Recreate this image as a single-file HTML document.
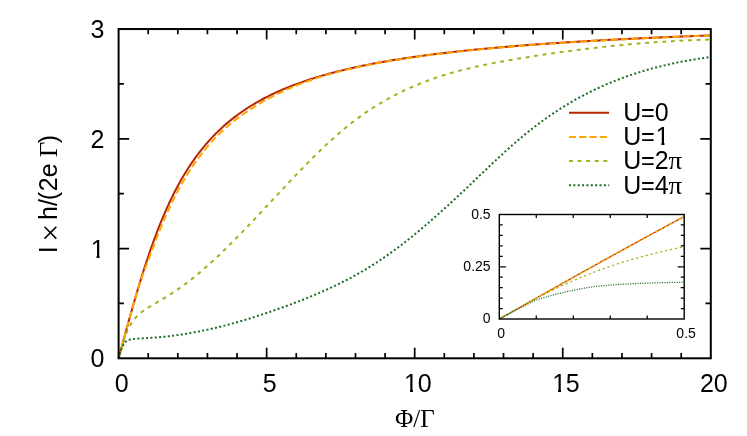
<!DOCTYPE html>
<html><head><meta charset="utf-8"><title>chart</title>
<style>html,body{margin:0;padding:0;background:#fff;overflow:hidden}svg{display:block;will-change:transform}</style>
</head><body>
<svg width="747" height="436" viewBox="0 0 747 436">
<rect x="0" y="0" width="747" height="436" fill="#ffffff"/>
<g fill="none" stroke-width="2" stroke-linejoin="round">
<path d="M118.60,358.30 L118.97,356.93 L119.34,355.56 L119.71,354.18 L120.08,352.81 L120.45,351.44 L120.82,350.07 L121.19,348.70 L121.56,347.33 L121.93,345.97 L122.30,344.60 L122.67,343.23 L123.04,341.87 L123.41,340.50 L123.78,339.14 L124.15,337.78 L124.52,336.42 L124.89,335.07 L125.26,333.71 L125.63,332.36 L126.00,331.00 L126.37,329.65 L126.74,328.31 L127.11,326.96 L127.48,325.62 L127.85,324.28 L128.22,322.94 L128.59,321.61 L128.96,320.27 L129.33,318.94 L129.70,317.62 L130.07,316.29 L130.44,314.97 L130.81,313.65 L131.18,312.34 L131.55,311.03 L131.92,309.72 L132.29,308.42 L132.66,307.12 L133.03,305.82 L133.41,304.53 L133.78,303.24 L134.15,301.95 L134.52,300.67 L134.89,299.39 L135.26,298.12 L135.63,296.85 L136.00,295.59 L136.37,294.33 L136.74,293.07 L137.11,291.82 L137.48,290.57 L137.85,289.33 L138.22,288.09 L138.59,286.85 L138.96,285.62 L139.33,284.40 L139.70,283.18 L140.07,281.97 L140.44,280.76 L140.81,279.55 L141.18,278.35 L141.55,277.15 L141.92,275.96 L142.29,274.78 L142.66,273.60 L143.03,272.42 L143.40,271.25 L143.77,270.09 L144.14,268.93 L144.51,267.78 L144.88,266.63 L145.25,265.48 L145.62,264.35 L145.99,263.21 L146.36,262.09 L146.73,260.96 L147.10,259.85 L147.47,258.74 L147.84,257.63 L148.21,256.53 L149.62,252.39 L151.03,248.33 L152.44,244.35 L153.85,240.45 L155.26,236.63 L156.67,232.89 L158.08,229.23 L159.49,225.65 L160.90,222.16 L162.31,218.73 L163.72,215.39 L165.13,212.12 L166.54,208.93 L167.95,205.80 L169.36,202.76 L170.77,199.78 L172.18,196.87 L173.59,194.03 L175.00,191.26 L176.41,188.55 L177.82,185.91 L179.23,183.32 L180.64,180.80 L182.05,178.34 L183.46,175.93 L184.87,173.59 L186.28,171.29 L187.69,169.05 L189.10,166.87 L190.51,164.73 L191.92,162.64 L193.33,160.60 L194.74,158.61 L196.15,156.66 L197.56,154.76 L198.97,152.90 L200.38,151.08 L201.79,149.30 L203.20,147.56 L204.61,145.86 L206.02,144.20 L207.43,142.58 L208.84,140.99 L210.25,139.43 L211.66,137.91 L213.07,136.42 L214.48,134.96 L215.89,133.53 L217.30,132.13 L218.71,130.76 L220.12,129.42 L221.53,128.11 L222.94,126.82 L224.35,125.56 L225.76,124.33 L227.17,123.12 L228.58,121.93 L229.99,120.77 L231.40,119.63 L232.81,118.51 L234.22,117.41 L235.63,116.34 L237.04,115.28 L238.45,114.25 L239.86,113.23 L241.27,112.23 L242.68,111.25 L244.09,110.29 L245.50,109.35 L246.91,108.42 L248.32,107.51 L249.73,106.62 L251.14,105.74 L252.55,104.88 L253.96,104.03 L255.37,103.20 L256.78,102.38 L258.19,101.58 L259.60,100.79 L261.01,100.01 L262.42,99.25 L263.83,98.50 L265.24,97.76 L266.65,97.03 L268.06,96.32 L269.47,95.61 L270.88,94.92 L272.29,94.24 L273.70,93.57 L275.11,92.91 L276.52,92.26 L277.93,91.62 L279.34,90.99 L280.75,90.37 L282.16,89.76 L283.57,89.16 L284.98,88.57 L286.39,87.98 L287.80,87.41 L289.21,86.84 L290.62,86.29 L292.03,85.74 L293.44,85.19 L294.85,84.66 L296.26,84.13 L297.67,83.62 L299.08,83.10 L300.49,82.60 L301.90,82.10 L303.31,81.61 L304.72,81.13 L306.13,80.65 L307.54,80.18 L308.95,79.72 L310.36,79.26 L311.77,78.81 L313.18,78.36 L314.59,77.92 L316.00,77.48 L317.41,77.06 L318.82,76.63 L320.23,76.22 L321.64,75.80 L323.05,75.40 L324.46,74.99 L325.87,74.60 L327.28,74.21 L328.69,73.82 L330.10,73.44 L331.51,73.06 L332.92,72.69 L334.33,72.32 L335.74,71.95 L337.15,71.59 L338.56,71.24 L339.97,70.89 L341.38,70.54 L342.79,70.20 L344.20,69.86 L345.61,69.52 L347.02,69.19 L348.43,68.86 L349.84,68.54 L351.25,68.22 L352.66,67.90 L354.07,67.59 L355.48,67.28 L356.89,66.98 L358.30,66.67 L359.71,66.38 L361.12,66.08 L362.53,65.79 L363.94,65.50 L365.35,65.21 L366.76,64.93 L368.17,64.65 L369.58,64.37 L370.99,64.10 L372.40,63.83 L373.81,63.56 L375.22,63.29 L376.63,63.03 L378.04,62.77 L379.45,62.51 L380.86,62.26 L382.27,62.00 L383.68,61.76 L385.09,61.51 L386.50,61.26 L387.91,61.02 L389.32,60.78 L390.73,60.54 L392.14,60.31 L393.55,60.08 L394.96,59.85 L396.37,59.62 L397.78,59.39 L399.19,59.17 L400.60,58.94 L402.01,58.73 L403.42,58.51 L404.83,58.29 L406.24,58.08 L407.65,57.87 L409.06,57.66 L410.47,57.45 L411.88,57.24 L413.29,57.04 L414.70,56.84 L416.11,56.64 L417.52,56.44 L418.93,56.24 L420.34,56.05 L421.75,55.86 L423.16,55.66 L424.57,55.48 L425.98,55.29 L427.39,55.10 L428.80,54.92 L430.21,54.73 L431.62,54.55 L433.03,54.37 L434.44,54.19 L435.85,54.02 L437.26,53.84 L438.67,53.67 L440.08,53.50 L441.49,53.33 L442.90,53.16 L444.31,52.99 L445.72,52.82 L447.13,52.66 L448.54,52.49 L449.95,52.33 L451.36,52.17 L452.77,52.01 L454.18,51.85 L455.59,51.69 L457.00,51.54 L458.41,51.38 L459.82,51.23 L461.23,51.08 L462.64,50.93 L464.05,50.78 L465.46,50.63 L466.87,50.48 L468.28,50.33 L469.69,50.19 L471.10,50.05 L472.51,49.90 L473.92,49.76 L475.33,49.62 L476.74,49.48 L478.15,49.34 L479.56,49.20 L480.97,49.07 L482.38,48.93 L483.79,48.80 L485.20,48.66 L486.61,48.53 L488.02,48.40 L489.43,48.27 L490.84,48.14 L492.25,48.01 L493.66,47.88 L495.07,47.76 L496.48,47.63 L497.89,47.51 L499.30,47.38 L500.71,47.26 L502.12,47.14 L503.53,47.02 L504.94,46.90 L506.35,46.78 L507.76,46.66 L509.17,46.54 L510.58,46.42 L511.99,46.31 L513.40,46.19 L514.81,46.08 L516.22,45.96 L517.63,45.85 L519.04,45.74 L520.45,45.63 L521.86,45.52 L523.27,45.41 L524.68,45.30 L526.09,45.19 L527.50,45.08 L528.91,44.97 L530.32,44.87 L531.73,44.76 L533.14,44.66 L534.55,44.55 L535.96,44.45 L537.37,44.35 L538.78,44.24 L540.19,44.14 L541.60,44.04 L543.01,43.94 L544.42,43.84 L545.83,43.74 L547.24,43.65 L548.65,43.55 L550.06,43.45 L551.47,43.35 L552.88,43.26 L554.29,43.16 L555.70,43.07 L557.11,42.98 L558.52,42.88 L559.93,42.79 L561.34,42.70 L562.75,42.61 L564.16,42.51 L565.57,42.42 L566.98,42.33 L568.39,42.24 L569.80,42.16 L571.21,42.07 L572.62,41.98 L574.03,41.89 L575.44,41.81 L576.85,41.72 L578.26,41.63 L579.67,41.55 L581.08,41.46 L582.49,41.38 L583.90,41.30 L585.31,41.21 L586.72,41.13 L588.13,41.05 L589.54,40.97 L590.95,40.89 L592.36,40.81 L593.77,40.73 L595.18,40.65 L596.59,40.57 L598.00,40.49 L599.41,40.41 L600.82,40.33 L602.23,40.25 L603.64,40.18 L605.05,40.10 L606.46,40.02 L607.87,39.95 L609.28,39.87 L610.69,39.80 L612.10,39.72 L613.51,39.65 L614.92,39.58 L616.33,39.50 L617.74,39.43 L619.15,39.36 L620.56,39.29 L621.97,39.22 L623.38,39.14 L624.79,39.07 L626.20,39.00 L627.61,38.93 L629.02,38.86 L630.43,38.79 L631.84,38.73 L633.25,38.66 L634.66,38.59 L636.07,38.52 L637.48,38.45 L638.89,38.39 L640.30,38.32 L641.71,38.25 L643.12,38.19 L644.53,38.12 L645.94,38.06 L647.35,37.99 L648.76,37.93 L650.17,37.86 L651.58,37.80 L652.99,37.74 L654.40,37.67 L655.81,37.61 L657.22,37.55 L658.63,37.48 L660.04,37.42 L661.45,37.36 L662.86,37.30 L664.27,37.24 L665.68,37.18 L667.09,37.12 L668.50,37.06 L669.91,37.00 L671.32,36.94 L672.73,36.88 L674.14,36.82 L675.55,36.76 L676.96,36.70 L678.37,36.65 L679.78,36.59 L681.19,36.53 L682.60,36.47 L684.01,36.42 L685.42,36.36 L686.83,36.30 L688.24,36.25 L689.65,36.19 L691.06,36.14 L692.47,36.08 L693.88,36.03 L695.29,35.97 L696.70,35.92 L698.11,35.86 L699.52,35.81 L700.93,35.76 L702.34,35.70 L703.75,35.65 L705.16,35.60 L706.57,35.54 L707.98,35.49 L709.39,35.44 L710.80,35.39" stroke="#b82503"/>
<path d="M118.60,358.30 L118.97,356.93 L119.34,355.56 L119.71,354.18 L120.08,352.81 L120.45,351.44 L120.82,350.07 L121.19,348.70 L121.56,347.33 L121.93,345.97 L122.30,344.60 L122.67,343.23 L123.04,341.87 L123.41,340.50 L123.78,339.14 L124.15,337.78 L124.52,336.42 L124.89,335.07 L125.26,333.71 L125.63,332.36 L126.00,331.00 L126.37,329.65 L126.74,328.31 L127.11,326.96 L127.48,325.62 L127.85,324.28 L128.22,322.94 L128.59,321.61 L128.96,320.27 L129.33,318.94 L129.70,317.62 L130.07,316.29 L130.44,314.97 L130.81,313.65 L131.18,312.34 L131.55,311.03 L131.92,309.72 L132.29,308.42 L132.66,307.12 L133.03,305.82 L133.41,304.53 L133.78,303.24 L134.15,301.95 L134.52,300.67 L134.89,299.39 L135.26,298.12 L135.63,296.85 L136.00,295.59 L136.37,294.33 L136.74,293.08 L137.11,291.85 L137.48,290.64 L137.85,289.45 L138.22,288.28 L138.59,287.12 L138.96,285.97 L139.33,284.84 L139.70,283.72 L140.07,282.61 L140.44,281.51 L140.81,280.42 L141.18,279.33 L141.55,278.25 L141.92,277.17 L142.29,276.10 L142.66,275.03 L143.03,274.00 L143.40,272.98 L143.77,271.98 L144.14,270.99 L144.51,270.02 L144.88,269.06 L145.25,268.10 L145.62,267.15 L145.99,266.20 L146.36,265.25 L146.73,264.29 L147.10,263.33 L147.47,262.36 L147.84,261.37 L148.21,260.37 L149.62,256.56 L151.03,252.79 L152.44,249.06 L153.85,245.35 L155.26,241.66 L156.67,237.99 L158.08,234.39 L159.49,230.87 L160.90,227.40 L162.31,224.00 L163.72,220.66 L165.13,217.38 L166.54,214.17 L167.95,211.04 L169.36,207.97 L170.77,204.97 L172.18,202.03 L173.59,199.17 L175.00,196.36 L176.41,193.63 L177.82,190.95 L179.23,188.34 L180.64,185.79 L182.05,183.29 L183.46,180.84 L184.87,178.45 L186.28,176.11 L187.69,173.83 L189.10,171.59 L190.51,169.40 L191.92,167.27 L193.33,165.18 L194.74,163.14 L196.15,161.14 L197.56,159.19 L198.97,157.28 L200.38,155.40 L201.79,153.57 L203.20,151.78 L204.61,150.03 L206.02,148.31 L207.43,146.64 L208.84,145.00 L210.25,143.40 L211.66,141.83 L213.07,140.29 L214.48,138.79 L215.89,137.32 L217.30,135.88 L218.71,134.47 L220.12,133.10 L221.53,131.75 L222.94,130.43 L224.35,129.14 L225.76,127.87 L227.17,126.63 L228.58,125.42 L229.99,124.23 L231.40,123.07 L232.81,121.93 L234.22,120.81 L235.63,119.71 L237.04,118.63 L238.45,117.58 L239.86,116.54 L241.27,115.52 L242.68,114.51 L244.09,113.53 L245.50,112.56 L246.91,111.61 L248.32,110.67 L249.73,109.74 L251.14,108.83 L252.55,107.94 L253.96,107.05 L255.37,106.18 L256.78,105.31 L258.19,104.46 L259.60,103.62 L261.01,102.79 L262.42,101.97 L263.83,101.17 L265.24,100.37 L266.65,99.58 L268.06,98.81 L269.47,98.04 L270.88,97.29 L272.29,96.55 L273.70,95.81 L275.11,95.09 L276.52,94.38 L277.93,93.68 L279.34,92.99 L280.75,92.32 L282.16,91.65 L283.57,90.99 L284.98,90.35 L286.39,89.71 L287.80,89.09 L289.21,88.48 L290.62,87.88 L292.03,87.28 L293.44,86.69 L294.85,86.11 L296.26,85.54 L297.67,84.98 L299.08,84.42 L300.49,83.87 L301.90,83.33 L303.31,82.79 L304.72,82.27 L306.13,81.75 L307.54,81.24 L308.95,80.73 L310.36,80.23 L311.77,79.74 L313.18,79.26 L314.59,78.79 L316.00,78.32 L317.41,77.86 L318.82,77.41 L320.23,76.96 L321.64,76.52 L323.05,76.09 L324.46,75.67 L325.87,75.26 L327.28,74.85 L328.69,74.44 L330.10,74.05 L331.51,73.65 L332.92,73.26 L334.33,72.88 L335.74,72.50 L337.15,72.13 L338.56,71.76 L339.97,71.40 L341.38,71.04 L342.79,70.68 L344.20,70.33 L345.61,69.98 L347.02,69.64 L348.43,69.30 L349.84,68.97 L351.25,68.64 L352.66,68.31 L354.07,67.99 L355.48,67.67 L356.89,67.36 L358.30,67.05 L359.71,66.74 L361.12,66.44 L362.53,66.14 L363.94,65.85 L365.35,65.56 L366.76,65.27 L368.17,64.98 L369.58,64.70 L370.99,64.43 L372.40,64.15 L373.81,63.88 L375.22,63.61 L376.63,63.35 L378.04,63.08 L379.45,62.82 L380.86,62.57 L382.27,62.31 L383.68,62.06 L385.09,61.81 L386.50,61.56 L387.91,61.32 L389.32,61.08 L390.73,60.84 L392.14,60.60 L393.55,60.36 L394.96,60.13 L396.37,59.90 L397.78,59.67 L399.19,59.45 L400.60,59.22 L402.01,59.00 L403.42,58.78 L404.83,58.57 L406.24,58.35 L407.65,58.14 L409.06,57.93 L410.47,57.72 L411.88,57.51 L413.29,57.31 L414.70,57.10 L416.11,56.90 L417.52,56.70 L418.93,56.50 L420.34,56.31 L421.75,56.11 L423.16,55.92 L424.57,55.73 L425.98,55.54 L427.39,55.35 L428.80,55.17 L430.21,54.98 L431.62,54.80 L433.03,54.62 L434.44,54.44 L435.85,54.26 L437.26,54.09 L438.67,53.91 L440.08,53.74 L441.49,53.57 L442.90,53.40 L444.31,53.23 L445.72,53.06 L447.13,52.89 L448.54,52.73 L449.95,52.57 L451.36,52.40 L452.77,52.24 L454.18,52.08 L455.59,51.93 L457.00,51.77 L458.41,51.61 L459.82,51.46 L461.23,51.31 L462.64,51.15 L464.05,51.00 L465.46,50.85 L466.87,50.70 L468.28,50.56 L469.69,50.41 L471.10,50.27 L472.51,50.12 L473.92,49.98 L475.33,49.84 L476.74,49.70 L478.15,49.56 L479.56,49.42 L480.97,49.28 L482.38,49.15 L483.79,49.01 L485.20,48.88 L486.61,48.74 L488.02,48.61 L489.43,48.48 L490.84,48.35 L492.25,48.22 L493.66,48.09 L495.07,47.96 L496.48,47.84 L497.89,47.71 L499.30,47.59 L500.71,47.46 L502.12,47.34 L503.53,47.22 L504.94,47.09 L506.35,46.97 L507.76,46.85 L509.17,46.74 L510.58,46.62 L511.99,46.50 L513.40,46.38 L514.81,46.27 L516.22,46.15 L517.63,46.04 L519.04,45.93 L520.45,45.81 L521.86,45.70 L523.27,45.59 L524.68,45.48 L526.09,45.37 L527.50,45.26 L528.91,45.16 L530.32,45.05 L531.73,44.94 L533.14,44.84 L534.55,44.73 L535.96,44.63 L537.37,44.52 L538.78,44.42 L540.19,44.32 L541.60,44.22 L543.01,44.12 L544.42,44.02 L545.83,43.92 L547.24,43.82 L548.65,43.72 L550.06,43.62 L551.47,43.52 L552.88,43.43 L554.29,43.33 L555.70,43.24 L557.11,43.14 L558.52,43.05 L559.93,42.95 L561.34,42.86 L562.75,42.77 L564.16,42.68 L565.57,42.58 L566.98,42.49 L568.39,42.40 L569.80,42.31 L571.21,42.22 L572.62,42.14 L574.03,42.05 L575.44,41.96 L576.85,41.87 L578.26,41.79 L579.67,41.70 L581.08,41.62 L582.49,41.53 L583.90,41.45 L585.31,41.36 L586.72,41.28 L588.13,41.20 L589.54,41.12 L590.95,41.03 L592.36,40.95 L593.77,40.87 L595.18,40.79 L596.59,40.71 L598.00,40.63 L599.41,40.55 L600.82,40.47 L602.23,40.40 L603.64,40.32 L605.05,40.24 L606.46,40.16 L607.87,40.09 L609.28,40.01 L610.69,39.94 L612.10,39.86 L613.51,39.79 L614.92,39.71 L616.33,39.64 L617.74,39.57 L619.15,39.49 L620.56,39.42 L621.97,39.35 L623.38,39.28 L624.79,39.20 L626.20,39.13 L627.61,39.06 L629.02,38.99 L630.43,38.92 L631.84,38.85 L633.25,38.78 L634.66,38.72 L636.07,38.65 L637.48,38.58 L638.89,38.51 L640.30,38.45 L641.71,38.38 L643.12,38.31 L644.53,38.25 L645.94,38.18 L647.35,38.11 L648.76,38.05 L650.17,37.98 L651.58,37.92 L652.99,37.86 L654.40,37.79 L655.81,37.73 L657.22,37.67 L658.63,37.60 L660.04,37.54 L661.45,37.48 L662.86,37.42 L664.27,37.36 L665.68,37.30 L667.09,37.23 L668.50,37.17 L669.91,37.11 L671.32,37.05 L672.73,36.99 L674.14,36.94 L675.55,36.88 L676.96,36.82 L678.37,36.76 L679.78,36.70 L681.19,36.64 L682.60,36.59 L684.01,36.53 L685.42,36.47 L686.83,36.42 L688.24,36.36 L689.65,36.30 L691.06,36.25 L692.47,36.19 L693.88,36.14 L695.29,36.08 L696.70,36.03 L698.11,35.97 L699.52,35.92 L700.93,35.87 L702.34,35.81 L703.75,35.76 L705.16,35.71 L706.57,35.65 L707.98,35.60 L709.39,35.55 L710.80,35.50" stroke="#ffa500" stroke-dasharray="7 3.3"/>
<path d="M118.60,358.30 L118.97,356.93 L119.34,355.56 L119.71,354.20 L120.08,352.85 L120.45,351.50 L120.82,350.18 L121.19,348.87 L121.56,347.58 L121.93,346.31 L122.30,345.07 L122.67,343.85 L123.04,342.66 L123.41,341.50 L123.78,340.36 L124.15,339.25 L124.52,338.18 L124.89,337.13 L125.26,336.11 L125.63,335.13 L126.00,334.17 L126.37,333.24 L126.74,332.35 L127.11,331.48 L127.48,330.68 L127.85,329.86 L128.22,329.08 L128.59,328.31 L128.96,327.58 L129.33,326.86 L129.70,326.17 L130.07,325.51 L130.44,324.86 L130.81,324.24 L131.18,323.63 L131.55,323.04 L131.92,322.48 L132.29,321.92 L132.66,321.39 L133.03,320.87 L133.41,320.37 L133.78,319.88 L134.15,319.41 L134.52,318.95 L134.89,318.51 L135.26,318.07 L135.63,317.65 L136.00,317.24 L136.37,316.84 L136.74,316.45 L137.11,316.07 L137.48,315.70 L137.85,315.34 L138.22,314.99 L138.59,314.64 L138.96,314.30 L139.33,313.97 L139.70,313.65 L140.07,313.34 L140.44,313.03 L140.81,312.72 L141.18,312.43 L141.55,312.14 L141.92,311.85 L142.29,311.57 L142.66,311.29 L143.03,311.02 L143.40,310.75 L143.77,310.49 L144.14,310.23 L144.51,309.97 L144.88,309.72 L145.25,309.47 L145.62,309.22 L145.99,308.97 L146.36,308.73 L146.73,308.49 L147.10,308.26 L147.47,308.02 L147.84,307.79 L148.21,307.56 L149.62,306.69 L151.03,305.84 L152.44,305.00 L153.85,304.18 L155.26,303.35 L156.67,302.53 L158.08,301.71 L159.49,300.88 L160.90,300.05 L162.31,299.21 L163.72,298.37 L165.13,297.52 L166.54,296.65 L167.95,295.78 L169.36,294.89 L170.77,294.00 L172.18,293.09 L173.59,292.16 L175.00,291.23 L176.41,290.28 L177.82,289.31 L179.23,288.33 L180.64,287.34 L182.05,286.33 L183.46,285.31 L184.87,284.27 L186.28,283.22 L187.69,282.16 L189.10,281.08 L190.51,279.98 L191.92,278.88 L193.33,277.76 L194.74,276.62 L196.15,275.47 L197.56,274.31 L198.97,273.13 L200.38,271.95 L201.79,270.74 L203.20,269.53 L204.61,268.30 L206.02,267.07 L207.43,265.82 L208.84,264.56 L210.25,263.29 L211.66,262.00 L213.07,260.71 L214.48,259.41 L215.89,258.09 L217.30,256.77 L218.71,255.44 L220.12,254.09 L221.53,252.74 L222.94,251.39 L224.35,250.02 L225.76,248.64 L227.17,247.26 L228.58,245.87 L229.99,244.47 L231.40,243.07 L232.81,241.65 L234.22,240.23 L235.63,238.81 L237.04,237.37 L238.45,235.94 L239.86,234.49 L241.27,233.04 L242.68,231.59 L244.09,230.12 L245.50,228.66 L246.91,227.19 L248.32,225.71 L249.73,224.23 L251.14,222.75 L252.55,221.26 L253.96,219.77 L255.37,218.28 L256.78,216.78 L258.19,215.28 L259.60,213.78 L261.01,212.28 L262.42,210.77 L263.83,209.27 L265.24,207.76 L266.65,206.25 L268.06,204.73 L269.47,203.22 L270.88,201.71 L272.29,200.20 L273.70,198.68 L275.11,197.17 L276.52,195.66 L277.93,194.15 L279.34,192.64 L280.75,191.13 L282.16,189.62 L283.57,188.12 L284.98,186.62 L286.39,185.12 L287.80,183.62 L289.21,182.12 L290.62,180.63 L292.03,179.14 L293.44,177.66 L294.85,176.18 L296.26,174.70 L297.67,173.23 L299.08,171.76 L300.49,170.30 L301.90,168.84 L303.31,167.39 L304.72,165.94 L306.13,164.50 L307.54,163.07 L308.95,161.64 L310.36,160.22 L311.77,158.81 L313.18,157.41 L314.59,156.01 L316.00,154.62 L317.41,153.24 L318.82,151.86 L320.23,150.50 L321.64,149.14 L323.05,147.80 L324.46,146.46 L325.87,145.13 L327.28,143.82 L328.69,142.51 L330.10,141.21 L331.51,139.93 L332.92,138.65 L334.33,137.39 L335.74,136.14 L337.15,134.90 L338.56,133.67 L339.97,132.46 L341.38,131.26 L342.79,130.07 L344.20,128.89 L345.61,127.73 L347.02,126.58 L348.43,125.45 L349.84,124.32 L351.25,123.22 L352.66,122.12 L354.07,121.04 L355.48,119.98 L356.89,118.92 L358.30,117.88 L359.71,116.86 L361.12,115.84 L362.53,114.84 L363.94,113.85 L365.35,112.87 L366.76,111.91 L368.17,110.96 L369.58,110.02 L370.99,109.09 L372.40,108.18 L373.81,107.28 L375.22,106.39 L376.63,105.51 L378.04,104.64 L379.45,103.78 L380.86,102.94 L382.27,102.11 L383.68,101.29 L385.09,100.48 L386.50,99.68 L387.91,98.89 L389.32,98.11 L390.73,97.34 L392.14,96.59 L393.55,95.84 L394.96,95.10 L396.37,94.38 L397.78,93.66 L399.19,92.96 L400.60,92.26 L402.01,91.58 L403.42,90.90 L404.83,90.24 L406.24,89.58 L407.65,88.93 L409.06,88.30 L410.47,87.67 L411.88,87.05 L413.29,86.44 L414.70,85.84 L416.11,85.24 L417.52,84.66 L418.93,84.09 L420.34,83.52 L421.75,82.96 L423.16,82.41 L424.57,81.87 L425.98,81.33 L427.39,80.81 L428.80,80.29 L430.21,79.78 L431.62,79.28 L433.03,78.78 L434.44,78.29 L435.85,77.81 L437.26,77.34 L438.67,76.87 L440.08,76.41 L441.49,75.96 L442.90,75.51 L444.31,75.07 L445.72,74.64 L447.13,74.22 L448.54,73.80 L449.95,73.38 L451.36,72.98 L452.77,72.57 L454.18,72.18 L455.59,71.79 L457.00,71.41 L458.41,71.03 L459.82,70.65 L461.23,70.29 L462.64,69.93 L464.05,69.57 L465.46,69.22 L466.87,68.87 L468.28,68.53 L469.69,68.19 L471.10,67.86 L472.51,67.53 L473.92,67.21 L475.33,66.89 L476.74,66.57 L478.15,66.26 L479.56,65.95 L480.97,65.65 L482.38,65.35 L483.79,65.06 L485.20,64.77 L486.61,64.48 L488.02,64.19 L489.43,63.91 L490.84,63.63 L492.25,63.36 L493.66,63.08 L495.07,62.81 L496.48,62.55 L497.89,62.28 L499.30,62.02 L500.71,61.76 L502.12,61.51 L503.53,61.25 L504.94,61.00 L506.35,60.75 L507.76,60.50 L509.17,60.25 L510.58,60.01 L511.99,59.76 L513.40,59.52 L514.81,59.28 L516.22,59.04 L517.63,58.80 L519.04,58.57 L520.45,58.33 L521.86,58.10 L523.27,57.87 L524.68,57.64 L526.09,57.41 L527.50,57.18 L528.91,56.95 L530.32,56.72 L531.73,56.50 L533.14,56.28 L534.55,56.05 L535.96,55.83 L537.37,55.62 L538.78,55.40 L540.19,55.18 L541.60,54.97 L543.01,54.75 L544.42,54.54 L545.83,54.33 L547.24,54.12 L548.65,53.91 L550.06,53.71 L551.47,53.50 L552.88,53.30 L554.29,53.09 L555.70,52.89 L557.11,52.69 L558.52,52.49 L559.93,52.30 L561.34,52.10 L562.75,51.91 L564.16,51.71 L565.57,51.52 L566.98,51.33 L568.39,51.14 L569.80,50.96 L571.21,50.77 L572.62,50.58 L574.03,50.40 L575.44,50.22 L576.85,50.04 L578.26,49.86 L579.67,49.68 L581.08,49.51 L582.49,49.33 L583.90,49.16 L585.31,48.99 L586.72,48.81 L588.13,48.65 L589.54,48.48 L590.95,48.31 L592.36,48.15 L593.77,47.98 L595.18,47.82 L596.59,47.66 L598.00,47.50 L599.41,47.34 L600.82,47.19 L602.23,47.03 L603.64,46.88 L605.05,46.73 L606.46,46.57 L607.87,46.43 L609.28,46.28 L610.69,46.13 L612.10,45.99 L613.51,45.84 L614.92,45.70 L616.33,45.56 L617.74,45.42 L619.15,45.28 L620.56,45.15 L621.97,45.01 L623.38,44.88 L624.79,44.75 L626.20,44.62 L627.61,44.49 L629.02,44.36 L630.43,44.23 L631.84,44.11 L633.25,43.98 L634.66,43.86 L636.07,43.74 L637.48,43.62 L638.89,43.51 L640.30,43.39 L641.71,43.28 L643.12,43.16 L644.53,43.05 L645.94,42.94 L647.35,42.83 L648.76,42.73 L650.17,42.62 L651.58,42.52 L652.99,42.41 L654.40,42.31 L655.81,42.21 L657.22,42.11 L658.63,42.02 L660.04,41.92 L661.45,41.83 L662.86,41.74 L664.27,41.65 L665.68,41.56 L667.09,41.47 L668.50,41.38 L669.91,41.30 L671.32,41.21 L672.73,41.13 L674.14,41.05 L675.55,40.97 L676.96,40.90 L678.37,40.82 L679.78,40.75 L681.19,40.67 L682.60,40.60 L684.01,40.53 L685.42,40.46 L686.83,40.40 L688.24,40.33 L689.65,40.27 L691.06,40.21 L692.47,40.15 L693.88,40.09 L695.29,40.03 L696.70,39.97 L698.11,39.92 L699.52,39.87 L700.93,39.82 L702.34,39.77 L703.75,39.72 L705.16,39.67 L706.57,39.63 L707.98,39.58 L709.39,39.54 L710.80,39.50" stroke="#a3b21f" stroke-dasharray="3.9 4.7"/>
<path d="M118.60,358.30 L118.97,356.97 L119.34,355.67 L119.71,354.39 L120.08,353.14 L120.45,351.87 L120.82,350.60 L121.19,349.41 L121.56,348.39 L121.93,347.56 L122.30,346.84 L122.67,346.14 L123.04,345.48 L123.41,344.86 L123.78,344.29 L124.15,343.76 L124.52,343.24 L124.89,342.73 L125.26,342.25 L125.63,341.86 L126.00,341.50 L126.37,341.18 L126.74,340.91 L127.11,340.68 L127.48,340.52 L127.85,340.34 L128.22,340.18 L128.59,340.03 L128.96,339.89 L129.33,339.76 L129.70,339.65 L130.07,339.55 L130.44,339.45 L130.81,339.37 L131.18,339.29 L131.55,339.22 L131.92,339.16 L132.29,339.09 L132.66,339.04 L133.03,338.99 L133.41,338.95 L133.78,338.92 L134.15,338.89 L134.52,338.86 L134.89,338.83 L135.26,338.80 L135.63,338.78 L136.00,338.75 L136.37,338.73 L136.74,338.71 L137.11,338.69 L137.48,338.66 L137.85,338.64 L138.22,338.62 L138.59,338.60 L138.96,338.58 L139.33,338.56 L139.70,338.54 L140.07,338.52 L140.44,338.50 L140.81,338.48 L141.18,338.46 L141.55,338.44 L141.92,338.42 L142.29,338.40 L142.66,338.38 L143.03,338.36 L143.40,338.34 L143.77,338.32 L144.14,338.30 L144.51,338.28 L144.88,338.25 L145.25,338.23 L145.62,338.21 L145.99,338.18 L146.36,338.16 L146.73,338.14 L147.10,338.12 L147.47,338.09 L147.84,338.07 L148.21,338.05 L149.62,337.96 L151.03,337.87 L152.44,337.77 L153.85,337.66 L155.26,337.55 L156.67,337.44 L158.08,337.31 L159.49,337.19 L160.90,337.06 L162.31,336.92 L163.72,336.77 L165.13,336.63 L166.54,336.47 L167.95,336.31 L169.36,336.15 L170.77,335.98 L172.18,335.80 L173.59,335.62 L175.00,335.43 L176.41,335.24 L177.82,335.04 L179.23,334.84 L180.64,334.63 L182.05,334.42 L183.46,334.20 L184.87,333.97 L186.28,333.74 L187.69,333.51 L189.10,333.27 L190.51,333.02 L191.92,332.77 L193.33,332.52 L194.74,332.26 L196.15,331.99 L197.56,331.72 L198.97,331.44 L200.38,331.16 L201.79,330.87 L203.20,330.58 L204.61,330.29 L206.02,329.99 L207.43,329.68 L208.84,329.37 L210.25,329.05 L211.66,328.73 L213.07,328.41 L214.48,328.08 L215.89,327.75 L217.30,327.41 L218.71,327.06 L220.12,326.72 L221.53,326.37 L222.94,326.01 L224.35,325.65 L225.76,325.28 L227.17,324.91 L228.58,324.54 L229.99,324.16 L231.40,323.78 L232.81,323.39 L234.22,323.00 L235.63,322.61 L237.04,322.21 L238.45,321.81 L239.86,321.40 L241.27,320.99 L242.68,320.58 L244.09,320.16 L245.50,319.74 L246.91,319.31 L248.32,318.88 L249.73,318.45 L251.14,318.01 L252.55,317.57 L253.96,317.12 L255.37,316.68 L256.78,316.22 L258.19,315.77 L259.60,315.31 L261.01,314.85 L262.42,314.38 L263.83,313.91 L265.24,313.44 L266.65,312.96 L268.06,312.49 L269.47,312.00 L270.88,311.52 L272.29,311.03 L273.70,310.54 L275.11,310.04 L276.52,309.54 L277.93,309.04 L279.34,308.54 L280.75,308.03 L282.16,307.52 L283.57,307.01 L284.98,306.49 L286.39,305.98 L287.80,305.45 L289.21,304.93 L290.62,304.40 L292.03,303.87 L293.44,303.34 L294.85,302.80 L296.26,302.27 L297.67,301.72 L299.08,301.18 L300.49,300.63 L301.90,300.08 L303.31,299.52 L304.72,298.96 L306.13,298.39 L307.54,297.82 L308.95,297.25 L310.36,296.67 L311.77,296.09 L313.18,295.51 L314.59,294.91 L316.00,294.32 L317.41,293.72 L318.82,293.11 L320.23,292.50 L321.64,291.88 L323.05,291.26 L324.46,290.63 L325.87,290.00 L327.28,289.36 L328.69,288.72 L330.10,288.07 L331.51,287.41 L332.92,286.75 L334.33,286.08 L335.74,285.40 L337.15,284.72 L338.56,284.03 L339.97,283.34 L341.38,282.63 L342.79,281.92 L344.20,281.21 L345.61,280.48 L347.02,279.75 L348.43,279.01 L349.84,278.27 L351.25,277.51 L352.66,276.75 L354.07,275.98 L355.48,275.20 L356.89,274.42 L358.30,273.62 L359.71,272.82 L361.12,272.01 L362.53,271.19 L363.94,270.36 L365.35,269.52 L366.76,268.67 L368.17,267.82 L369.58,266.95 L370.99,266.08 L372.40,265.19 L373.81,264.30 L375.22,263.40 L376.63,262.49 L378.04,261.56 L379.45,260.63 L380.86,259.69 L382.27,258.74 L383.68,257.77 L385.09,256.80 L386.50,255.82 L387.91,254.83 L389.32,253.83 L390.73,252.82 L392.14,251.80 L393.55,250.78 L394.96,249.74 L396.37,248.69 L397.78,247.64 L399.19,246.58 L400.60,245.51 L402.01,244.43 L403.42,243.34 L404.83,242.25 L406.24,241.15 L407.65,240.04 L409.06,238.92 L410.47,237.79 L411.88,236.66 L413.29,235.52 L414.70,234.37 L416.11,233.21 L417.52,232.05 L418.93,230.88 L420.34,229.71 L421.75,228.52 L423.16,227.33 L424.57,226.14 L425.98,224.93 L427.39,223.73 L428.80,222.51 L430.21,221.29 L431.62,220.06 L433.03,218.83 L434.44,217.59 L435.85,216.35 L437.26,215.09 L438.67,213.84 L440.08,212.58 L441.49,211.31 L442.90,210.04 L444.31,208.76 L445.72,207.48 L447.13,206.20 L448.54,204.91 L449.95,203.61 L451.36,202.31 L452.77,201.01 L454.18,199.70 L455.59,198.39 L457.00,197.07 L458.41,195.75 L459.82,194.42 L461.23,193.10 L462.64,191.77 L464.05,190.43 L465.46,189.09 L466.87,187.75 L468.28,186.41 L469.69,185.07 L471.10,183.72 L472.51,182.38 L473.92,181.03 L475.33,179.68 L476.74,178.34 L478.15,176.99 L479.56,175.64 L480.97,174.29 L482.38,172.95 L483.79,171.60 L485.20,170.26 L486.61,168.92 L488.02,167.58 L489.43,166.25 L490.84,164.92 L492.25,163.59 L493.66,162.26 L495.07,160.94 L496.48,159.62 L497.89,158.31 L499.30,157.00 L500.71,155.70 L502.12,154.40 L503.53,153.11 L504.94,151.82 L506.35,150.54 L507.76,149.27 L509.17,148.01 L510.58,146.75 L511.99,145.50 L513.40,144.26 L514.81,143.02 L516.22,141.80 L517.63,140.58 L519.04,139.38 L520.45,138.18 L521.86,136.99 L523.27,135.82 L524.68,134.65 L526.09,133.50 L527.50,132.35 L528.91,131.22 L530.32,130.10 L531.73,128.99 L533.14,127.89 L534.55,126.80 L535.96,125.72 L537.37,124.65 L538.78,123.60 L540.19,122.55 L541.60,121.51 L543.01,120.49 L544.42,119.48 L545.83,118.47 L547.24,117.48 L548.65,116.50 L550.06,115.52 L551.47,114.56 L552.88,113.61 L554.29,112.67 L555.70,111.73 L557.11,110.81 L558.52,109.90 L559.93,109.00 L561.34,108.10 L562.75,107.22 L564.16,106.35 L565.57,105.48 L566.98,104.63 L568.39,103.78 L569.80,102.95 L571.21,102.12 L572.62,101.31 L574.03,100.50 L575.44,99.70 L576.85,98.91 L578.26,98.13 L579.67,97.36 L581.08,96.60 L582.49,95.85 L583.90,95.10 L585.31,94.37 L586.72,93.64 L588.13,92.92 L589.54,92.21 L590.95,91.51 L592.36,90.82 L593.77,90.14 L595.18,89.46 L596.59,88.79 L598.00,88.13 L599.41,87.48 L600.82,86.84 L602.23,86.21 L603.64,85.58 L605.05,84.96 L606.46,84.35 L607.87,83.75 L609.28,83.16 L610.69,82.57 L612.10,81.99 L613.51,81.42 L614.92,80.85 L616.33,80.30 L617.74,79.75 L619.15,79.21 L620.56,78.67 L621.97,78.14 L623.38,77.62 L624.79,77.11 L626.20,76.61 L627.61,76.11 L629.02,75.62 L630.43,75.13 L631.84,74.65 L633.25,74.18 L634.66,73.72 L636.07,73.26 L637.48,72.81 L638.89,72.36 L640.30,71.93 L641.71,71.49 L643.12,71.07 L644.53,70.65 L645.94,70.24 L647.35,69.83 L648.76,69.43 L650.17,69.04 L651.58,68.65 L652.99,68.27 L654.40,67.89 L655.81,67.52 L657.22,67.16 L658.63,66.80 L660.04,66.44 L661.45,66.10 L662.86,65.76 L664.27,65.42 L665.68,65.09 L667.09,64.76 L668.50,64.44 L669.91,64.13 L671.32,63.82 L672.73,63.51 L674.14,63.22 L675.55,62.92 L676.96,62.63 L678.37,62.35 L679.78,62.07 L681.19,61.79 L682.60,61.52 L684.01,61.26 L685.42,61.00 L686.83,60.74 L688.24,60.49 L689.65,60.24 L691.06,60.00 L692.47,59.76 L693.88,59.53 L695.29,59.30 L696.70,59.07 L698.11,58.85 L699.52,58.63 L700.93,58.42 L702.34,58.21 L703.75,58.00 L705.16,57.80 L706.57,57.60 L707.98,57.41 L709.39,57.22 L710.80,57.03" stroke="#1d6b24" stroke-dasharray="2 2.36"/>
</g>
<g stroke="#000" fill="none">
<rect x="118.60" y="29.05" width="592.20" height="329.25" stroke-width="2"/>
<path d="M148.21,358.30 v-5.30 M148.21,29.05 v5.30 M177.82,358.30 v-5.30 M177.82,29.05 v5.30 M207.43,358.30 v-5.30 M207.43,29.05 v5.30 M237.04,358.30 v-5.30 M237.04,29.05 v5.30 M266.65,358.30 v-10.50 M266.65,29.05 v10.50 M296.26,358.30 v-5.30 M296.26,29.05 v5.30 M325.87,358.30 v-5.30 M325.87,29.05 v5.30 M355.48,358.30 v-5.30 M355.48,29.05 v5.30 M385.09,358.30 v-5.30 M385.09,29.05 v5.30 M414.70,358.30 v-10.50 M414.70,29.05 v10.50 M444.31,358.30 v-5.30 M444.31,29.05 v5.30 M473.92,358.30 v-5.30 M473.92,29.05 v5.30 M503.53,358.30 v-5.30 M503.53,29.05 v5.30 M533.14,358.30 v-5.30 M533.14,29.05 v5.30 M562.75,358.30 v-10.50 M562.75,29.05 v10.50 M592.36,358.30 v-5.30 M592.36,29.05 v5.30 M621.97,358.30 v-5.30 M621.97,29.05 v5.30 M651.58,358.30 v-5.30 M651.58,29.05 v5.30 M681.19,358.30 v-5.30 M681.19,29.05 v5.30 M118.60,303.43 h5.30 M710.80,303.43 h-5.30 M118.60,248.55 h10.50 M710.80,248.55 h-10.50 M118.60,193.68 h5.30 M710.80,193.68 h-5.30 M118.60,138.80 h10.50 M710.80,138.80 h-10.50 M118.60,83.93 h5.30 M710.80,83.93 h-5.30" stroke-width="1.7"/>
</g>
<g fill="none" stroke-width="1.25" stroke-linejoin="round">
<path d="M499.30,319.00 L500.85,318.12 L502.41,317.24 L503.96,316.37 L505.52,315.49 L507.07,314.61 L508.62,313.73 L510.18,312.85 L511.73,311.98 L513.28,311.10 L514.84,310.22 L516.39,309.34 L517.95,308.46 L519.50,307.59 L521.05,306.71 L522.61,305.83 L524.16,304.95 L525.71,304.08 L527.27,303.20 L528.82,302.32 L530.38,301.45 L531.93,300.57 L533.48,299.69 L535.04,298.82 L536.59,297.94 L538.14,297.07 L539.70,296.19 L541.25,295.32 L542.81,294.44 L544.36,293.57 L545.91,292.69 L547.47,291.82 L549.02,290.94 L550.57,290.07 L552.13,289.19 L553.68,288.32 L555.24,287.45 L556.79,286.57 L558.34,285.70 L559.90,284.83 L561.45,283.96 L563.01,283.08 L564.56,282.21 L566.11,281.34 L567.67,280.47 L569.22,279.60 L570.77,278.73 L572.33,277.86 L573.88,276.99 L575.44,276.12 L576.99,275.25 L578.54,274.38 L580.10,273.52 L581.65,272.65 L583.20,271.78 L584.76,270.91 L586.31,270.05 L587.87,269.18 L589.42,268.32 L590.97,267.45 L592.53,266.59 L594.08,265.72 L595.63,264.86 L597.19,264.00 L598.74,263.13 L600.30,262.27 L601.85,261.41 L603.40,260.55 L604.96,259.69 L606.51,258.83 L608.06,257.97 L609.62,257.11 L611.17,256.25 L612.73,255.39 L614.28,254.53 L615.83,253.68 L617.39,252.82 L618.94,251.96 L620.49,251.11 L622.05,250.25 L623.60,249.40 L625.16,248.54 L626.71,247.69 L628.26,246.84 L629.82,245.99 L631.37,245.14 L632.93,244.28 L634.48,243.43 L636.03,242.59 L637.59,241.74 L639.14,240.89 L640.69,240.04 L642.25,239.19 L643.80,238.35 L645.36,237.50 L646.91,236.66 L648.46,235.81 L650.02,234.97 L651.57,234.13 L653.12,233.29 L654.68,232.44 L656.23,231.60 L657.79,230.76 L659.34,229.92 L660.89,229.09 L662.45,228.25 L664.00,227.41 L665.55,226.57 L667.11,225.74 L668.66,224.90 L670.22,224.07 L671.77,223.24 L673.32,222.40 L674.88,221.57 L676.43,220.74 L677.98,219.91 L679.54,219.08 L681.09,218.25 L682.65,217.43 L684.20,216.60" stroke="#b82503"/>
<path d="M499.30,319.00 L500.85,318.12 L502.41,317.24 L503.96,316.37 L505.52,315.49 L507.07,314.61 L508.62,313.73 L510.18,312.85 L511.73,311.98 L513.28,311.10 L514.84,310.22 L516.39,309.34 L517.95,308.46 L519.50,307.59 L521.05,306.71 L522.61,305.83 L524.16,304.95 L525.71,304.08 L527.27,303.20 L528.82,302.32 L530.38,301.45 L531.93,300.57 L533.48,299.69 L535.04,298.82 L536.59,297.94 L538.14,297.07 L539.70,296.19 L541.25,295.32 L542.81,294.44 L544.36,293.57 L545.91,292.69 L547.47,291.82 L549.02,290.94 L550.57,290.07 L552.13,289.19 L553.68,288.32 L555.24,287.45 L556.79,286.57 L558.34,285.70 L559.90,284.83 L561.45,283.96 L563.01,283.08 L564.56,282.21 L566.11,281.34 L567.67,280.47 L569.22,279.60 L570.77,278.73 L572.33,277.86 L573.88,276.99 L575.44,276.12 L576.99,275.25 L578.54,274.38 L580.10,273.52 L581.65,272.65 L583.20,271.78 L584.76,270.91 L586.31,270.05 L587.87,269.18 L589.42,268.32 L590.97,267.45 L592.53,266.59 L594.08,265.72 L595.63,264.86 L597.19,264.00 L598.74,263.13 L600.30,262.27 L601.85,261.41 L603.40,260.55 L604.96,259.69 L606.51,258.83 L608.06,257.97 L609.62,257.11 L611.17,256.25 L612.73,255.39 L614.28,254.53 L615.83,253.68 L617.39,252.82 L618.94,251.96 L620.49,251.11 L622.05,250.25 L623.60,249.40 L625.16,248.54 L626.71,247.69 L628.26,246.84 L629.82,245.99 L631.37,245.14 L632.93,244.28 L634.48,243.43 L636.03,242.59 L637.59,241.74 L639.14,240.89 L640.69,240.04 L642.25,239.19 L643.80,238.35 L645.36,237.50 L646.91,236.66 L648.46,235.81 L650.02,234.97 L651.57,234.13 L653.12,233.29 L654.68,232.44 L656.23,231.60 L657.79,230.76 L659.34,229.92 L660.89,229.09 L662.45,228.25 L664.00,227.41 L665.55,226.57 L667.11,225.74 L668.66,224.90 L670.22,224.07 L671.77,223.24 L673.32,222.40 L674.88,221.57 L676.43,220.74 L677.98,219.91 L679.54,219.08 L681.09,218.25 L682.65,217.43 L684.20,216.60" stroke="#ffa500" stroke-dasharray="3.6 1.5"/>
<path d="M499.30,319.00 L500.85,318.12 L502.41,317.24 L503.96,316.37 L505.52,315.49 L507.07,314.61 L508.62,313.74 L510.18,312.87 L511.73,311.99 L513.28,311.12 L514.84,310.26 L516.39,309.39 L517.95,308.53 L519.50,307.67 L521.05,306.81 L522.61,305.95 L524.16,305.10 L525.71,304.25 L527.27,303.41 L528.82,302.57 L530.38,301.73 L531.93,300.90 L533.48,300.07 L535.04,299.24 L536.59,298.42 L538.14,297.61 L539.70,296.80 L541.25,295.99 L542.81,295.19 L544.36,294.40 L545.91,293.61 L547.47,292.82 L549.02,292.05 L550.57,291.27 L552.13,290.51 L553.68,289.75 L555.24,288.99 L556.79,288.24 L558.34,287.50 L559.90,286.76 L561.45,286.03 L563.01,285.30 L564.56,284.59 L566.11,283.87 L567.67,283.17 L569.22,282.47 L570.77,281.77 L572.33,281.09 L573.88,280.41 L575.44,279.73 L576.99,279.07 L578.54,278.41 L580.10,277.75 L581.65,277.10 L583.20,276.46 L584.76,275.83 L586.31,275.20 L587.87,274.58 L589.42,273.96 L590.97,273.35 L592.53,272.75 L594.08,272.15 L595.63,271.56 L597.19,270.98 L598.74,270.40 L600.30,269.83 L601.85,269.26 L603.40,268.70 L604.96,268.15 L606.51,267.60 L608.06,267.06 L609.62,266.53 L611.17,266.00 L612.73,265.47 L614.28,264.96 L615.83,264.45 L617.39,263.94 L618.94,263.44 L620.49,262.94 L622.05,262.45 L623.60,261.97 L625.16,261.49 L626.71,261.02 L628.26,260.55 L629.82,260.09 L631.37,259.63 L632.93,259.18 L634.48,258.73 L636.03,258.29 L637.59,257.85 L639.14,257.42 L640.69,257.00 L642.25,256.57 L643.80,256.16 L645.36,255.74 L646.91,255.33 L648.46,254.93 L650.02,254.53 L651.57,254.14 L653.12,253.75 L654.68,253.36 L656.23,252.98 L657.79,252.60 L659.34,252.23 L660.89,251.86 L662.45,251.50 L664.00,251.14 L665.55,250.78 L667.11,250.43 L668.66,250.08 L670.22,249.73 L671.77,249.39 L673.32,249.06 L674.88,248.72 L676.43,248.39 L677.98,248.07 L679.54,247.74 L681.09,247.42 L682.65,247.11 L684.20,246.79" stroke="#a3b21f" stroke-dasharray="2.3 2.7"/>
<path d="M499.30,319.00 L500.85,318.14 L502.41,317.29 L503.96,316.45 L505.52,315.61 L507.07,314.78 L508.62,313.95 L510.18,313.13 L511.73,312.31 L513.28,311.50 L514.84,310.69 L516.39,309.89 L517.95,309.10 L519.50,308.30 L521.05,307.48 L522.61,306.66 L524.16,305.84 L525.71,305.02 L527.27,304.22 L528.82,303.44 L530.38,302.68 L531.93,301.95 L533.48,301.26 L535.04,300.61 L536.59,300.01 L538.14,299.46 L539.70,298.93 L541.25,298.44 L542.81,297.96 L544.36,297.50 L545.91,297.06 L547.47,296.61 L549.02,296.17 L550.57,295.73 L552.13,295.30 L553.68,294.88 L555.24,294.47 L556.79,294.07 L558.34,293.67 L559.90,293.29 L561.45,292.92 L563.01,292.56 L564.56,292.20 L566.11,291.86 L567.67,291.52 L569.22,291.18 L570.77,290.85 L572.33,290.52 L573.88,290.19 L575.44,289.86 L576.99,289.53 L578.54,289.20 L580.10,288.89 L581.65,288.60 L583.20,288.33 L584.76,288.07 L586.31,287.82 L587.87,287.58 L589.42,287.34 L590.97,287.11 L592.53,286.89 L594.08,286.68 L595.63,286.48 L597.19,286.29 L598.74,286.11 L600.30,285.95 L601.85,285.79 L603.40,285.65 L604.96,285.51 L606.51,285.37 L608.06,285.24 L609.62,285.12 L611.17,285.01 L612.73,284.89 L614.28,284.78 L615.83,284.68 L617.39,284.58 L618.94,284.47 L620.49,284.38 L622.05,284.28 L623.60,284.18 L625.16,284.09 L626.71,284.00 L628.26,283.92 L629.82,283.83 L631.37,283.75 L632.93,283.67 L634.48,283.60 L636.03,283.53 L637.59,283.47 L639.14,283.40 L640.69,283.34 L642.25,283.28 L643.80,283.22 L645.36,283.16 L646.91,283.10 L648.46,283.05 L650.02,283.00 L651.57,282.94 L653.12,282.90 L654.68,282.85 L656.23,282.80 L657.79,282.76 L659.34,282.72 L660.89,282.68 L662.45,282.64 L664.00,282.60 L665.55,282.56 L667.11,282.53 L668.66,282.49 L670.22,282.46 L671.77,282.42 L673.32,282.39 L674.88,282.36 L676.43,282.33 L677.98,282.30 L679.54,282.28 L681.09,282.26 L682.65,282.23 L684.20,282.22" stroke="#1d6b24" stroke-dasharray="1.1 1.35"/>
</g>
<g stroke="#000" fill="none">
<rect x="499.30" y="214.50" width="184.90" height="104.50" stroke-width="1.4"/>
<path d="M536.28,319.00 v-3.40 M536.28,214.50 v3.40 M573.26,319.00 v-3.40 M573.26,214.50 v3.40 M610.24,319.00 v-3.40 M610.24,214.50 v3.40 M647.22,319.00 v-3.40 M647.22,214.50 v3.40 M499.30,308.55 h3.40 M684.20,308.55 h-3.40 M499.30,298.10 h3.40 M684.20,298.10 h-3.40 M499.30,287.65 h3.40 M684.20,287.65 h-3.40 M499.30,277.20 h3.40 M684.20,277.20 h-3.40 M499.30,266.75 h6.50 M684.20,266.75 h-6.50 M499.30,256.30 h3.40 M684.20,256.30 h-3.40 M499.30,245.85 h3.40 M684.20,245.85 h-3.40 M499.30,235.40 h3.40 M684.20,235.40 h-3.40 M499.30,224.95 h3.40 M684.20,224.95 h-3.40" stroke-width="1.25"/>
</g>
<defs><clipPath id="one"><path d="M-1,-21 H15 V-2.6 H8.9 V1 H5.9 V-2.6 H-1 Z"/></clipPath></defs>
<g fill="#000" style="font-family:'Liberation Sans',sans-serif;font-size:25px">
<text x="121.60" y="391.60" text-anchor="middle">0</text>
<text x="269.65" y="391.60" text-anchor="middle">5</text>
<text x="713.80" y="391.60" text-anchor="middle">20</text>
<g transform="translate(404.10,391.60)"><text x="0" y="0" clip-path="url(#one)">1</text></g>
<text x="417.70" y="391.60">0</text>
<g transform="translate(552.15,391.60)"><text x="0" y="0" clip-path="url(#one)">1</text></g>
<text x="565.75" y="391.60">5</text>
<text x="104.3" y="367.30" text-anchor="end">0</text>
<text x="104.3" y="147.80" text-anchor="end">2</text>
<text x="104.3" y="38.05" text-anchor="end">3</text>
<g transform="translate(90.70,257.55)"><text x="0" y="0" clip-path="url(#one)">1</text></g>
</g>
<g fill="#000" style="font-family:'Liberation Sans',sans-serif;font-size:14px">
<text x="501.10" y="337.9" text-anchor="middle">0</text>
<text x="686.10" y="337.9" text-anchor="middle">0.5</text>
<text x="490.6" y="323.30" text-anchor="end">0</text>
<text x="490.6" y="271.05" text-anchor="end">0.25</text>
<text x="490.6" y="218.80" text-anchor="end">0.5</text>
</g>
<text x="414.8" y="427" text-anchor="middle" fill="#000" style="font-family:'Liberation Serif',serif;font-size:25px">Φ/Γ</text>
<g transform="translate(56.8,251.2) rotate(-90)" fill="#000" style="font-family:'Liberation Sans',sans-serif;font-size:25px">
<text x="-2.0" y="0">I</text>
<text x="9.45" y="4.2" style="font-family:'Liberation Serif',serif;font-size:32px">×</text>
<text x="31.2" y="0">h/</text>
<text x="51.05" y="0">(</text>
<text x="60.0" y="0">2e</text>
<text x="93.9" y="0" textLength="15.7" lengthAdjust="spacingAndGlyphs" style="font-family:'Liberation Serif',serif;font-size:25px">Γ</text>
<text x="108.0" y="0">)</text>
</g>
<g fill="none" stroke-width="2">
<path d="M569.0,112.8 H609.1" stroke="#b82503"/>
<path d="M569.0,137.0 H609.1" stroke="#ffa500" stroke-dasharray="7 3.3"/>
<path d="M569.0,161.1 H609.1" stroke="#a3b21f" stroke-dasharray="3.9 4.7"/>
<path d="M569.0,185.3 H609.1" stroke="#1d6b24" stroke-dasharray="2 2.36"/>
</g>
<g fill="#000" style="font-family:'Liberation Sans',sans-serif;font-size:25px">
<text x="623.3" y="121.00">U</text>
<text x="641.1" y="121.00" textLength="13.8" lengthAdjust="spacingAndGlyphs">=</text>
<text x="654.8" y="121.00">0</text>
<text x="623.3" y="145.20">U</text>
<text x="641.1" y="145.20" textLength="13.8" lengthAdjust="spacingAndGlyphs">=</text>
<g transform="translate(655.50,145.20)"><text x="0" y="0" clip-path="url(#one)">1</text></g>
<text x="623.3" y="169.30">U</text>
<text x="641.1" y="169.30" textLength="13.8" lengthAdjust="spacingAndGlyphs">=</text>
<text x="654.8" y="169.30">2</text>
<text x="623.3" y="193.50">U</text>
<text x="641.1" y="193.50" textLength="13.8" lengthAdjust="spacingAndGlyphs">=</text>
<text x="654.8" y="193.50">4</text>
</g>
<g fill="#000" style="font-family:'Liberation Serif',serif;font-size:25px">
<text x="668.6" y="169.30" textLength="13.6" lengthAdjust="spacingAndGlyphs">π</text>
<text x="668.6" y="193.50" textLength="13.6" lengthAdjust="spacingAndGlyphs">π</text>
</g>
</svg>
</body></html>
